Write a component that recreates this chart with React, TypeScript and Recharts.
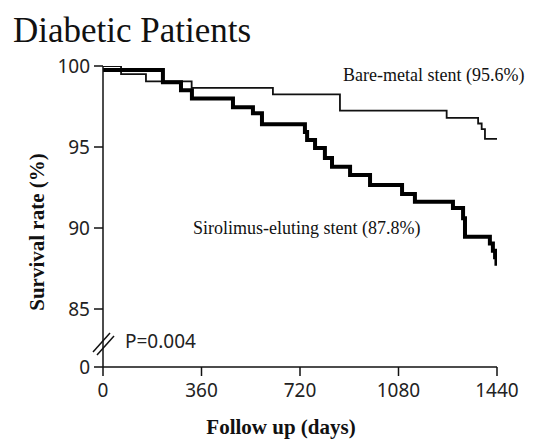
import { LineChart, Line, XAxis, YAxis, Customized } from "recharts";

// bottom of the broken y axis: shown as "0"
const AXIS_BOTTOM = 81.42;

const xTicks = [0, 360, 720, 1080, 1440];
const yTicks = [AXIS_BOTTOM, 85, 90, 95, 100];

// Bare-metal stent (thin line)
const bmsDays = [0, 66, 157, 324, 621, 866, 1256, 1371, 1384, 1396, 1440];
const bmsSurvival = [100, 99.5, 99.05, 98.65, 98.25, 97.25, 96.8, 96.45, 96.1, 95.5, 95.5];

// Sirolimus-eluting stent (thick line)
const sesDays = [0, 219, 285, 325, 475, 548, 581, 738, 746, 775, 811, 837, 903, 976, 1093, 1140, 1279, 1316, 1323, 1414, 1425, 1433, 1438, 1440];
const sesSurvival = [99.75, 99.0, 98.5, 98.0, 97.45, 97.08, 96.4, 95.93, 95.43, 94.94, 94.32, 93.78, 93.27, 92.65, 92.1, 91.62, 91.23, 90.6, 89.46, 89.05, 88.6, 88.2, 87.8, 87.8];

const bmsData = bmsDays.map((d, i) => ({ day: d, survival: bmsSurvival[i] }));
const sesData = sesDays.map((d, i) => ({ day: d, survival: sesSurvival[i] }));

const sans = "'Noto Sans', 'Open Sans', sans-serif";
const serif = "'Liberation Serif', 'Times New Roman', serif";

const YTick = (props: any) => {
  const { x, y, payload } = props;
  const isBreak = payload.value === AXIS_BOTTOM;
  return (
    <g>
      <text x={x} y={y} dy="0.36em" textAnchor="end" fontFamily={sans} fontSize={19} fill="#222">
        {isBreak ? "0" : payload.value}
      </text>
      {isBreak && (
        <g stroke="#111" strokeWidth={1.5}>
          <line x1={x + 3} y1={y - 15} x2={x + 20} y2={y - 34} />
          <line x1={x + 7} y1={y - 12} x2={x + 24} y2={y - 31} />
        </g>
      )}
    </g>
  );
};

const XTick = (props: any) => {
  const { x, y, payload } = props;
  return (
    <text x={x} y={y} dy="0.9em" textAnchor="middle" fontFamily={sans} fontSize={19} fill="#222">
      {payload.value}
    </text>
  );
};

const Annotations = () => (
  <g>
    <text x={13} y={42} fontFamily={serif} fontSize={35} fill="#111">Diabetic Patients</text>
    <text x={343} y={81} fontFamily={serif} fontSize={18} fill="#111">Bare-metal stent (95.6%)</text>
    <text x={193} y={234} fontFamily={serif} fontSize={18} fill="#111">Sirolimus-eluting stent (87.8%)</text>
    <text x={125} y={341} dy="0.36em" fontFamily={sans} fontSize={19} fill="#222">P=0.004</text>
    <text x={281} y={434} textAnchor="middle" fontFamily={serif} fontWeight="bold" fontSize={21} fill="#111">Follow up (days)</text>
    <text x={0} y={0} transform="translate(44, 232) rotate(-90)" textAnchor="middle" fontFamily={serif} fontWeight="bold" fontSize={21} fill="#111">Survival rate (%)</text>
  </g>
);

export default function App() {
  return (
    <div style={{ position: "absolute", left: 0, top: 0, background: "#fff" }}>
      <LineChart width={543} height={440} margin={{ top: 66, right: 46, bottom: 43, left: 63 }}>
        <XAxis
          type="number"
          dataKey="day"
          domain={[0, 1440]}
          ticks={xTicks}
          allowDataOverflow
          height={30}
          tickSize={9}
          tickMargin={4}
          tick={<XTick />}
          stroke="#111"
          strokeWidth={1.5}
        />
        <YAxis
          type="number"
          domain={[AXIS_BOTTOM, 100]}
          ticks={yTicks}
          allowDataOverflow
          width={40}
          tickSize={9}
          tickMargin={4}
          tick={<YTick />}
          stroke="#111"
          strokeWidth={1.5}
        />
        <Line
          data={bmsData}
          dataKey="survival"
          type="stepAfter"
          stroke="#111"
          strokeWidth={1.8}
          dot={false}
          isAnimationActive={false}
        />
        <Line
          data={sesData}
          dataKey="survival"
          type="stepAfter"
          stroke="#000"
          strokeWidth={4}
          dot={false}
          isAnimationActive={false}
        />
        <Customized component={Annotations} />
      </LineChart>
    </div>
  );
}
